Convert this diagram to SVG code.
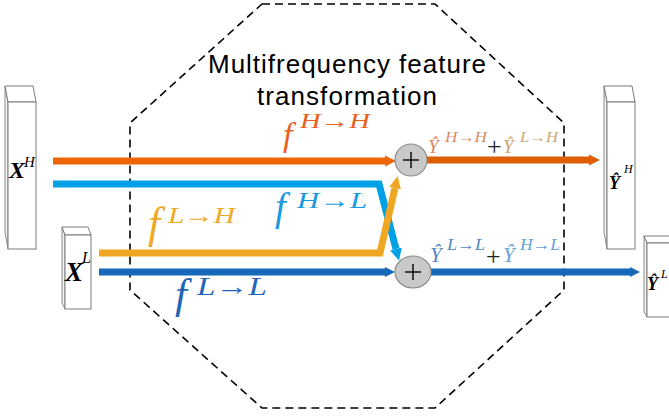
<svg xmlns="http://www.w3.org/2000/svg" width="669" height="417" viewBox="0 0 669 417">
<style>
.box{fill:#fff;stroke:#7a7a7a;stroke-width:1}
.side{fill:#f3f3f3;stroke:#8a8a8a;stroke-width:1}
.title{font-family:"Liberation Sans",Arial,sans-serif;font-size:26px;fill:#000;text-anchor:middle}
.m{font-family:"Liberation Serif","DejaVu Serif",serif;font-style:italic}
.mb{font-family:"Liberation Serif","DejaVu Serif",serif;font-style:italic;font-weight:bold;fill:#000}
.pl{font-family:"Liberation Serif","DejaVu Serif",serif;font-size:26px;fill:#222}
.ln{fill:none;stroke-width:7;stroke-linejoin:miter}
.sum{fill:#c9c9c9;stroke:#8c8c8c;stroke-width:1.2}
.cross{stroke:#111;stroke-width:1.5}
</style>
<defs>
<marker id="aO" viewBox="0 0 10 10" refX="0" refY="5" markerUnits="userSpaceOnUse" markerWidth="11" markerHeight="16" orient="auto"><path d="M0,0 L10,5 L0,10 z" fill="#ec6608"/></marker>
<marker id="aO2" viewBox="0 0 10 10" refX="0" refY="5" markerUnits="userSpaceOnUse" markerWidth="11" markerHeight="16" orient="auto"><path d="M0,0 L10,5 L0,10 z" fill="#dd5e05"/></marker>
<marker id="aLB" viewBox="0 0 10 10" refX="0" refY="5" markerUnits="userSpaceOnUse" markerWidth="12" markerHeight="20" orient="auto"><path d="M0,0 L10,5 L0,10 z" fill="#00a0e4"/></marker>
<marker id="aY" viewBox="0 0 10 10" refX="0" refY="5" markerUnits="userSpaceOnUse" markerWidth="12" markerHeight="22" orient="auto"><path d="M0,0 L10,5 L0,10 z" fill="#efa623"/></marker>
<marker id="aDB" viewBox="0 0 10 10" refX="0" refY="5" markerUnits="userSpaceOnUse" markerWidth="10" markerHeight="16" orient="auto"><path d="M0,0 L10,5 L0,10 z" fill="#1469b8"/></marker>
</defs>

<g id="octagon">
<polygon points="262,4 435,4 564,123 564,290 435,408 262,408 130,290 130,123" fill="none" stroke="#000" stroke-width="1.6" stroke-dasharray="8,5"/>
</g>

<g id="title">
<text class="title" x="347" y="73" textLength="278">Multifrequency feature</text>
<text class="title" x="347" y="105" textLength="180">transformation</text>
</g>

<g id="XH">
<polygon class="side" points="5,86 8,102 8,249 5,232"/>
<polygon class="box" points="5,86 33,86 36,102 8,102"/>
<rect class="box" x="8" y="102" width="28" height="147"/>
<text class="mb" x="9" y="178" font-size="24">X</text>
<text class="m" x="24" y="167" font-size="15" fill="#000">H</text>
</g>

<g id="XL">
<polygon class="side" points="62,227 65,235 65,309 62,303"/>
<polygon class="box" points="62,227 88,227 91,235 65,235"/>
<rect class="box" x="65" y="235" width="26" height="74"/>
<text class="mb" x="65" y="281" font-size="27">X</text>
<text class="m" x="82" y="263" font-size="16" fill="#000">L</text>
</g>

<g id="YH">
<polygon class="side" points="604,86 607,102 607,249 604,232"/>
<polygon class="box" points="604,86 632,86 635,102 607,102"/>
<rect class="box" x="607" y="102" width="28" height="147"/>
<text class="mb" x="609" y="189" font-size="18">Ŷ</text>
<text class="m" x="624" y="173" font-size="12" fill="#000">H</text>
</g>

<g id="YL">
<polygon class="side" points="644,236 647,243 647,317 644,312"/>
<polygon class="box" points="644,236 672,236 675,243 647,243"/>
<rect class="box" x="647" y="243" width="28" height="74"/>
<text class="mb" x="647" y="290" font-size="18">Ŷ</text>
<text class="m" x="661" y="278" font-size="12" fill="#000">L</text>
</g>

<g id="connectors">
<path class="ln" d="M53,161 H385" stroke="#ec6608" marker-end="url(#aO)"/>
<path class="ln" d="M53,184 H379 L396,249" stroke="#00a0e4" marker-end="url(#aLB)"/>
<path class="ln" d="M99,253 H380 L395,188" stroke="#efa623" marker-end="url(#aY)"/>
<path class="ln" d="M99,272 H385" stroke="#1469b8" marker-end="url(#aDB)"/>
<path class="ln" d="M427,160 H589" stroke="#dd5e05" marker-end="url(#aO2)"/>
<path class="ln" d="M431,272 H630" stroke="#1469b8" marker-end="url(#aDB)"/>
</g>

<g id="sum1">
<ellipse class="sum" cx="411" cy="160" rx="16" ry="16"/>
<path class="cross" d="M403,160 H419 M411,152 V168"/>
</g>
<g id="sum2">
<ellipse class="sum" cx="413" cy="272" rx="18" ry="16"/>
<path class="cross" d="M405,272 H421 M413,264 V280"/>
</g>

<g id="labels">
<text class="m" x="283" y="146" font-size="34" fill="#e8601c">f</text>
<text class="m" x="300" y="128" font-size="21" fill="#e8601c" textLength="70" lengthAdjust="spacingAndGlyphs">H→H</text>

<text class="m" x="148" y="238" font-size="44" fill="#f0a828">f</text>
<text class="m" x="168" y="223" font-size="24" fill="#f0a828" textLength="67" lengthAdjust="spacingAndGlyphs">L→H</text>

<text class="m" x="275" y="220" font-size="39" fill="#1a9be0">f</text>
<text class="m" x="297" y="208" font-size="24" fill="#1a9be0" textLength="70" lengthAdjust="spacingAndGlyphs">H→L</text>

<text class="m" x="175" y="308" font-size="43" fill="#1f66b8">f</text>
<text class="m" x="197" y="295" font-size="25" fill="#1f66b8" textLength="70" lengthAdjust="spacingAndGlyphs">L→L</text>

<text class="m" x="428" y="153" font-size="19" fill="#d98a68">Ŷ</text>
<text class="m" x="445" y="142" font-size="15" fill="#d98a68" textLength="42" lengthAdjust="spacingAndGlyphs">H→H</text>
<text class="pl" x="487" y="155">+</text>
<text class="m" x="503" y="153" font-size="19" fill="#cda774">Ŷ</text>
<text class="m" x="520" y="142" font-size="15" fill="#cda774" textLength="38" lengthAdjust="spacingAndGlyphs">L→H</text>

<text class="m" x="430" y="262" font-size="21" fill="#5586c2">Ŷ</text>
<text class="m" x="447" y="250" font-size="16" fill="#5586c2" textLength="38" lengthAdjust="spacingAndGlyphs">L→L</text>
<text class="pl" x="486" y="265">+</text>
<text class="m" x="503" y="262" font-size="21" fill="#65a3d6">Ŷ</text>
<text class="m" x="520" y="250" font-size="16" fill="#65a3d6" textLength="40" lengthAdjust="spacingAndGlyphs">H→L</text>
</g>
</svg>
